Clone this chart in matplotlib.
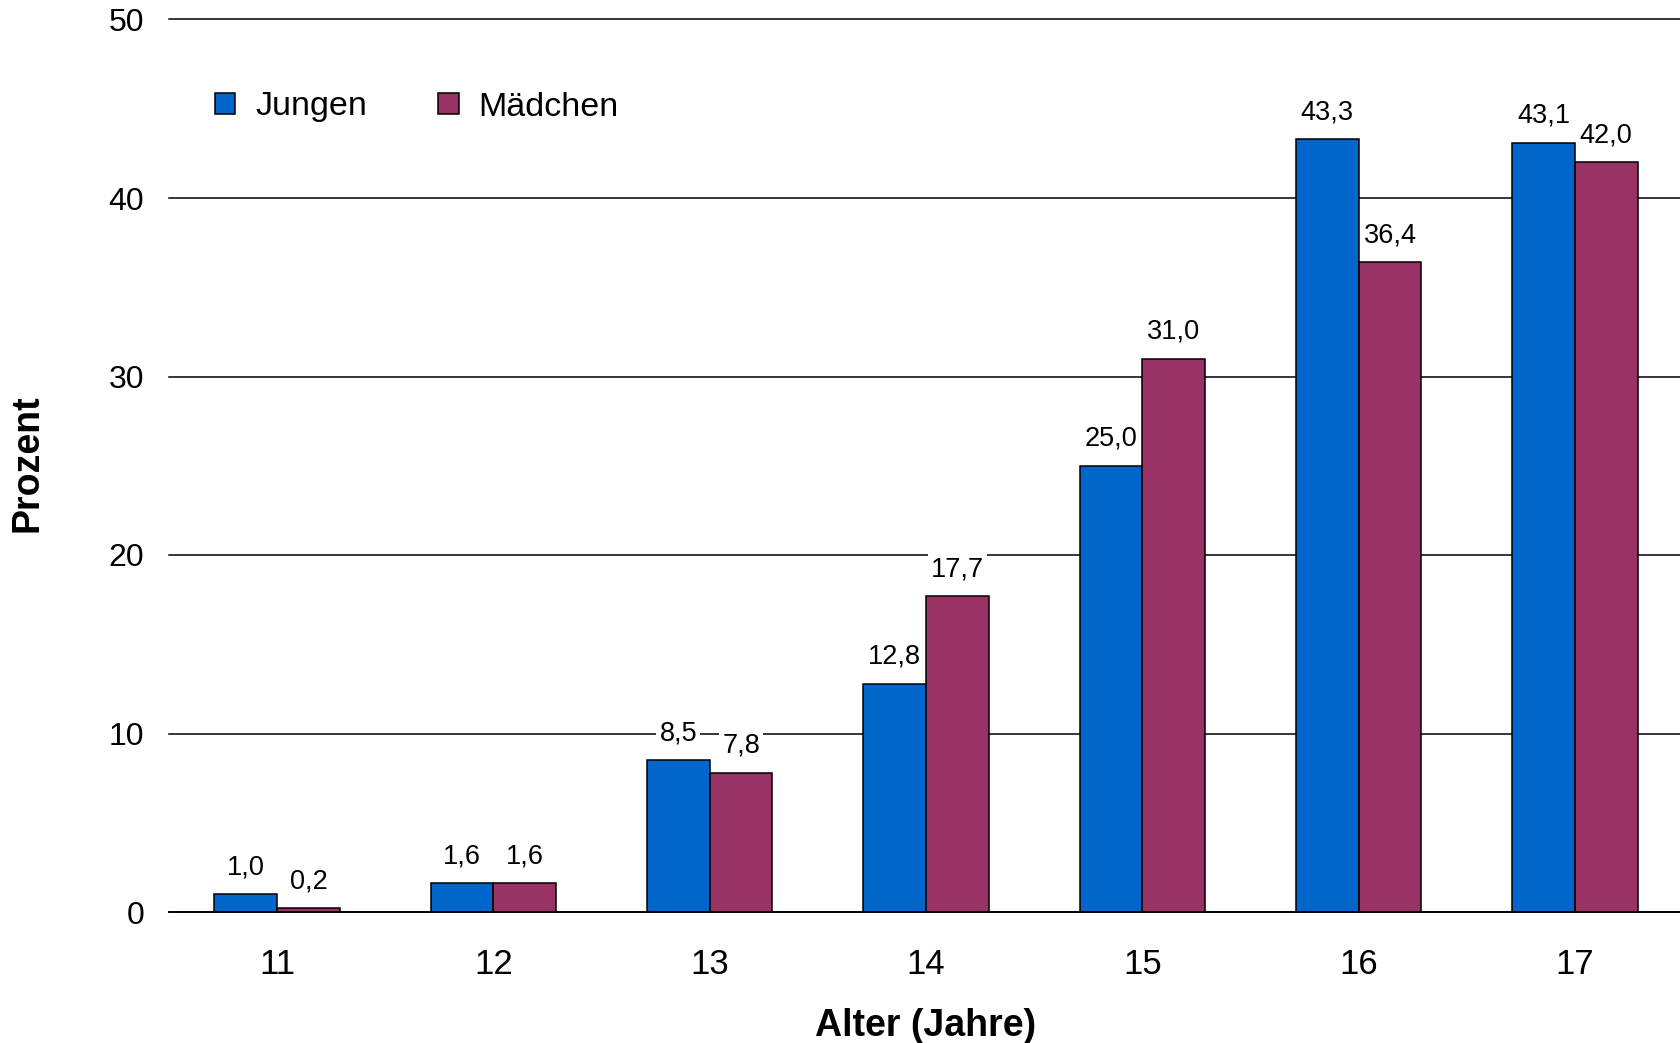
import matplotlib
matplotlib.use("Agg")
import matplotlib.pyplot as plt
import numpy as np

plt.rcParams['font.family'] = ['Liberation Sans', 'DejaVu Sans']

ages = ["11", "12", "13", "14", "15", "16", "17"]
jungen = [1.0, 1.6, 8.5, 12.8, 25.0, 43.3, 43.1]
maedchen = [0.2, 1.6, 7.8, 17.7, 31.0, 36.4, 42.0]
yticks = [0, 10, 20, 30, 40, 50]

blue = "#0066CC"
maroon = "#993366"

fig = plt.figure(figsize=(16.8, 10.43), dpi=100)
ax = fig.add_axes([169 / 1680, 131 / 1043, 1514 / 1680, 892.5 / 1043])

x = np.arange(len(ages))
w = 0.29

b1 = ax.bar(x - w / 2, jungen, w, color=blue, edgecolor="black", linewidth=1.1,
            label="Jungen", zorder=3)
b2 = ax.bar(x + w / 2, maedchen, w, color=maroon, edgecolor="black", linewidth=1.1,
            label="Mädchen", zorder=3)

def fmt(v):
    return f"{v:.1f}".replace(".", ",")

for bars, vals in ((b1, jungen), (b2, maedchen)):
    for rect, v in zip(bars, vals):
        ax.annotate(fmt(v), (rect.get_x() + rect.get_width() / 2, v),
                    xytext=(0, 10), textcoords="offset points",
                    ha="center", va="bottom", fontsize=19.5, zorder=4,
                    bbox=dict(boxstyle="square,pad=0.12", fc="white", ec="none"))

ax.set_xlim(-0.5, 6.5)
ax.set_ylim(0, 50)
ax.set_yticks(yticks)
ax.set_xticks(x)
ax.set_xticklabels(ages)
ax.yaxis.grid(True, color="black", linewidth=1.1, zorder=0)
for gl in ax.get_ygridlines():
    gl.set_clip_on(False)
ax.set_axisbelow(True)
for s in ("left", "right", "top"):
    ax.spines[s].set_visible(False)
ax.spines["bottom"].set_linewidth(1.3)
ax.spines["bottom"].set_zorder(5)
ax.tick_params(axis="y", length=0, pad=18, labelsize=23)
ax.tick_params(axis="x", length=0, pad=26, labelsize=25)

ax.set_xlabel("Alter (Jahre)", fontsize=27, fontweight="bold", labelpad=19)
fig.text(28 / 1680, 1 - 463 / 1043, "Prozent", rotation=90, fontsize=27,
         fontweight="bold", ha="center", va="center")

ax.legend(loc="center left", bbox_to_anchor=(215 / 1680, 1 - 107 / 1043),
          bbox_transform=fig.transFigure, ncol=2, frameon=False, fontsize=24.5,
          handlelength=0.6, handleheight=0.6, handletextpad=0.58,
          columnspacing=2.1, borderaxespad=0, borderpad=0)

fig.savefig("out.png", dpi=100, facecolor="white")
